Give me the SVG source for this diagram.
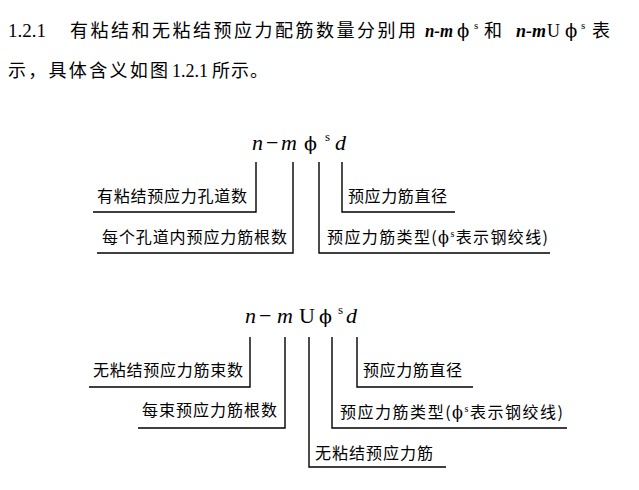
<svg xmlns="http://www.w3.org/2000/svg" width="639" height="490" viewBox="0 0 639 490">
<style>
.cn{font-family:"Noto Sans CJK SC","Noto Sans CJK TC",sans-serif;font-size:16px;fill:#000}
.hd{font-size:18px}
.sf{font-family:"Liberation Serif","DejaVu Serif",serif;fill:#000}
.it{font-family:"Liberation Serif","DejaVu Serif",serif;font-style:italic;fill:#000}
.ph{font-family:"DejaVu Serif","Liberation Serif",serif;fill:#000}
.ln{stroke:#000;stroke-width:1.4;fill:none}
</style>
<rect width="639" height="490" fill="#fff"/>
<g id="header">
  <text class="sf" x="8" y="37" font-size="19" textLength="38" lengthAdjust="spacingAndGlyphs">1.2.1</text>
  <text class="cn hd" x="70" y="37" textLength="346">有粘结和无粘结预应力配筋数量分别用</text>
  <text class="it" x="425" y="37" font-size="19" font-weight="bold" textLength="28" lengthAdjust="spacingAndGlyphs">n-m</text>
  <text class="ph" x="457" y="37" font-size="18">ϕ</text>
  <text class="sf" x="474" y="29" font-size="11">s</text>
  <text class="cn hd" x="484" y="37">和</text>
  <text class="sf" x="516" y="37" font-size="18"><tspan font-style="italic" font-weight="bold">n-m</tspan><tspan dx="1">U</tspan></text>
  <text class="ph" x="565" y="37" font-size="18">ϕ</text>
  <text class="sf" x="581" y="29" font-size="11">s</text>
  <text class="cn hd" x="592" y="37">表</text>
  <text class="cn hd" x="8" y="77" textLength="160">示，具体含义如图</text>
  <text class="sf" x="172" y="77" font-size="19" textLength="36" lengthAdjust="spacingAndGlyphs">1.2.1</text>
  <text class="cn hd" x="212" y="77" textLength="56">所示。</text>
</g>
<g id="formula1">
  <text class="it" x="252" y="150" font-size="22">n</text>
  <text class="sf" x="266" y="150" font-size="22">−</text>
  <text class="it" x="281" y="150" font-size="22">m</text>
  <text class="ph" x="304" y="150" font-size="19">ϕ</text>
  <text class="sf" x="325" y="141" font-size="13">s</text>
  <text class="it" x="335" y="150" font-size="22">d</text>
</g>
<g id="formula2">
  <text class="it" x="245" y="323" font-size="22">n</text>
  <text class="sf" x="259" y="323" font-size="22">−</text>
  <text class="it" x="277" y="323" font-size="22">m</text>
  <text class="sf" x="299" y="323" font-size="22">U</text>
  <text class="ph" x="319" y="323" font-size="19">ϕ</text>
  <text class="sf" x="338" y="314" font-size="13">s</text>
  <text class="it" x="346" y="323" font-size="22">d</text>
</g>
<g id="connectors">
  <path class="ln" d="M256,162V212H93"/>
  <path class="ln" d="M293,162V253H97"/>
  <path class="ln" d="M319,162V253H550"/>
  <path class="ln" d="M342,162V212H455"/>
  <path class="ln" d="M250,337V387H89"/>
  <path class="ln" d="M285,337V428H138"/>
  <path class="ln" d="M309,337V467H446"/>
  <path class="ln" d="M332,337V428H567"/>
  <path class="ln" d="M357,337V387H473"/>
</g>
<g id="t1"><text class="cn" x="97" y="202" textLength="150">有粘结预应力孔道数</text></g>
<g id="t2"><text class="cn" x="102" y="243" textLength="185">每个孔道内预应力筋根数</text></g>
<g id="t3"><text class="cn" x="348" y="202" textLength="99">预应力筋直径</text></g>
<g id="t4"><text class="cn" x="327" y="243" textLength="221">预应力筋类型(<tspan class="ph">ϕ</tspan><tspan class="sf" font-size="10" dy="-6">s</tspan><tspan dy="6">表示钢绞线)</tspan></text></g>
<g id="b1"><text class="cn" x="93" y="376" textLength="150">无粘结预应力筋束数</text></g>
<g id="b2"><text class="cn" x="142" y="416" textLength="135">每束预应力筋根数</text></g>
<g id="b3"><text class="cn" x="363" y="376" textLength="99">预应力筋直径</text></g>
<g id="b4"><text class="cn" x="340" y="418" textLength="223">预应力筋类型(<tspan class="ph">ϕ</tspan><tspan class="sf" font-size="10" dy="-6">s</tspan><tspan dy="6">表示钢绞线)</tspan></text></g>
<g id="b5"><text class="cn" x="315" y="459" textLength="118">无粘结预应力筋</text></g>
</svg>
